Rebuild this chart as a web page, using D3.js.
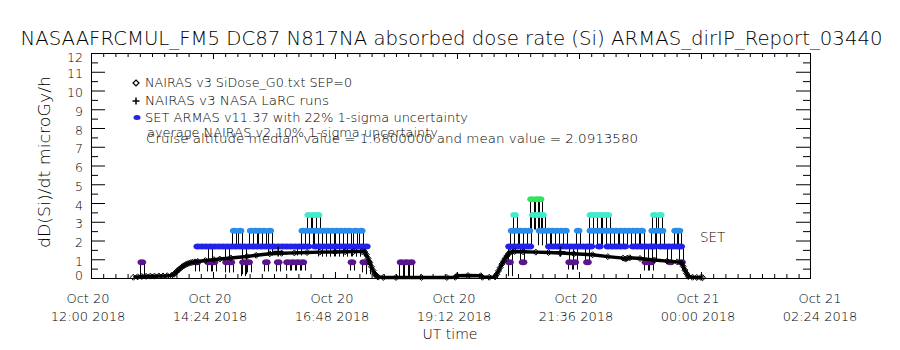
<!DOCTYPE html>
<html><head><meta charset="utf-8">
<script src="https://cdn.jsdelivr.net/npm/d3@7"></script>
<style>
body{margin:0;background:#fff}
svg text{font-family:"DejaVu Sans",sans-serif;font-weight:200;fill:#000}
</style>
</head><body>
<svg id="c" width="900" height="350"></svg>
<script>
// ---------------- data ----------------
const titleText = "NASAAFRCMUL_FM5 DC87 N817NA absorbed dose rate (Si) ARMAS_dirIP_Report_03440";
const yTitle = "dD(Si)/dt microGy/h";
const xTitle = "UT time";
const yTickValues = [0,1,2,3,4,5,6,7,8,9,10,11,12];
const xTickTimes = ["12:00","14:24","16:48","19:12","21:36","00:00","02:24"];
const legendLines = [
  "NAIRAS v3 SiDose_G0.txt SEP=0",
  "NAIRAS v3 NASA LaRC runs",
  "SET ARMAS v11.37 with 22% 1-sigma uncertainty",
  "average NAIRAS v2 10% 1-sigma uncertainty",
  "Cruise altitude median value = 1.6800000 and mean value = 2.0913580"
];

// NAIRAS v3 SiDose (diamonds)
const nairasTimes = ["12:50","12:55","13:00","13:05","13:10","13:15","13:20","13:25","13:30","13:35","13:38","13:40","13:42","13:44","13:46","13:48","13:50","13:52","13:54","13:56","13:58","14:00","14:03","14:06","14:15","14:25","14:32","14:45","15:04","15:15","15:31","15:45","16:00","16:15","16:30","16:48","17:00","17:10","17:20","17:23","17:25","17:27","17:29","17:31","17:33","17:35","17:37","17:39","17:45","18:00","18:30","19:00","19:10","19:12","19:25","19:40","19:42","19:50","19:57","19:59","20:01","20:03","20:05","20:07","20:09","20:11","20:13","20:15","20:20","20:30","20:45","21:00","21:14","21:30","21:52","22:10","22:28","22:31","22:33","22:36","22:48","23:05","23:20","23:32","23:37","23:39","23:41","23:43","23:45","23:50","23:55","00:00","00:02"];
const nairasDose  = [0.04,0.06,0.08,0.09,0.10,0.10,0.11,0.11,0.12,0.14,0.20,0.30,0.38,0.46,0.54,0.61,0.67,0.72,0.76,0.79,0.82,0.84,0.86,0.88,0.93,0.98,1.01,1.07,1.15,1.21,1.29,1.32,1.34,1.36,1.38,1.39,1.40,1.41,1.41,1.40,1.25,1.05,0.82,0.60,0.40,0.22,0.10,0.05,0.03,0.03,0.03,0.03,0.04,0.12,0.13,0.12,0.04,0.04,0.06,0.20,0.38,0.56,0.74,0.90,1.05,1.18,1.30,1.38,1.41,1.40,1.38,1.36,1.33,1.29,1.24,1.14,1.06,1.01,1.06,1.08,1.04,0.96,0.90,0.86,0.80,0.62,0.42,0.24,0.08,0.04,0.03,0.03,0.02];

// NAIRAS v3 NASA LaRC runs (+)
const larcTimes = ["15:41","21:14"];
const larcDose  = [1.42,1.40];

// SET ARMAS measurements, one array per quantised dose level, with the lower end of each drop line
const armasLevels = [0.84, 1.68, 2.52, 3.36, 4.2];
const armasL1Times = ["13:00","14:05","14:19","14:25","14:40","14:45","15:00","15:06","15:27","15:41","15:52","15:58","16:04","16:10","17:08","17:22","17:27","18:06","18:12","18:18","20:14","20:30","21:25","21:31","21:46","22:55","23:01","23:24","23:37"];
const armasL1Low   = [0.15,0.35,0.35,0.35,0.30,0.30,0.10,0.30,0.35,0.35,0.40,0.40,0.40,0.40,0.40,0.30,0.20,0.10,0.10,0.10,0.10,0.84,0.45,0.45,0.84,0.40,0.40,0.84,0.84];
const armasL2Times = ["14:06","14:11","14:16","14:21","14:26","14:31","14:36","14:41","14:46","14:51","14:56","15:01","15:06","15:11","15:16","15:21","15:26","15:31","15:36","15:41","15:46","15:51","15:56","16:01","16:06","16:11","16:16","16:25","16:30","16:35","16:40","16:45","16:50","16:55","17:00","17:05","17:10","17:15","17:20","17:25",
  "20:14","20:19","20:24","20:29","20:34","20:38","21:01","21:06","21:11","21:16","21:21","21:26","21:31","21:36","21:41","21:46","21:50","22:00","22:10","22:15","22:20","22:25","22:30","22:40","22:45","22:50","22:55","23:00","23:04","23:12","23:17","23:22","23:27","23:32","23:36"];
const armasL2Low   = [1.68,1.68,1.68,0.90,1.68,1.68,1.68,0.90,1.68,1.68,1.68,0.20,1.68,1.68,1.68,1.68,1.68,1.20,1.68,1.68,1.68,1.68,1.68,1.68,1.20,1.68,1.68,1.68,1.15,1.15,1.15,1.15,1.15,1.15,1.15,1.15,1.15,1.15,1.15,1.68,
  0.90,1.68,1.68,0.90,1.68,1.68,1.68,1.68,1.68,1.68,1.68,0.90,0.90,1.68,1.68,0.90,1.68,1.68,1.68,1.68,1.68,1.68,1.68,1.68,1.68,1.68,0.90,0.90,0.90,1.68,1.68,0.90,1.68,1.68,0.90];
const armasL3Times = ["14:49","14:56","15:09","15:14","15:19","15:24","15:31","16:10","16:15","16:20","16:25","16:30","16:35","16:40","16:45","16:50","16:55","17:00","17:05","17:12","17:19",
  "20:17","20:22","20:27","20:32","20:37","20:50","20:55","21:00","21:05","21:10","21:15","21:20","21:35","21:50","21:55","22:00","22:05","22:10","22:15","22:20","22:25","22:30","22:35","22:40","22:45","22:50","23:03","23:09","23:14","23:30","23:34"];
const armasL3Low   = armasL3Times.map(() => 1.75);
const armasL4Times = ["16:17","16:23","16:28","20:20","20:42","20:47","20:53","21:50","21:55","22:00","22:05","22:10","23:05","23:12"];
const armasL4Low   = [2.6,2.6,2.6,2.6,2.6,2.6,2.6,2.6,2.6,2.6,2.6,2.6,2.6,2.6];
const armasL5Times = ["20:40","20:46","20:50"];
const armasL5Low   = [2.6,2.6,2.6];

// ---------------- drawing ----------------
const levelColors = ["#5a148c","#2222e8","#2a8cec","#40eccc","#2ee65a"];
const parseT = s => { const [h,m] = s.split(":").map(Number); return new Date(2018, 9, h >= 12 ? 20 : 21, h, m); };

const L = 91, R = 810, T = 53, B = 278;
const x = d3.scaleTime().domain([new Date(2018,9,20,12,0), new Date(2018,9,21,2,8,40)]).range([L, R]);
const y = d3.scaleLinear().domain([0,12]).range([B, T]);
const svg = d3.select("#c");

// frame
svg.append("rect").attr("x",L+0.5).attr("y",T+0.5).attr("width",R-L).attr("height",B-T)
  .attr("fill","none").attr("stroke","#000").attr("stroke-width",1);

// axes ticks
const t0 = new Date(2018,9,20,12,0);
const xEnd = x.domain()[1];
const majorX = xTickTimes.map(parseT).filter(d => d <= xEnd);
const minorX = d3.range(0, 850, 14.4).map(m => new Date(+t0 + m*60000)).filter(d => d <= xEnd);
const yMinor = d3.range(0.5, 12, 1);
function cleanAxis(g){ g.select(".domain").remove(); g.selectAll("text").remove(); g.selectAll("line").attr("stroke","#000"); }
svg.append("g").attr("transform",`translate(0,${B})`).call(d3.axisTop(x).tickValues(minorX).tickSize(4)).call(cleanAxis);
svg.append("g").attr("transform",`translate(0,${B})`).call(d3.axisTop(x).tickValues(majorX).tickSize(6)).call(cleanAxis);
svg.append("g").attr("transform",`translate(0,${T})`).call(d3.axisBottom(x).tickValues(minorX).tickSize(4)).call(cleanAxis);
svg.append("g").attr("transform",`translate(0,${T})`).call(d3.axisBottom(x).tickValues(majorX).tickSize(6)).call(cleanAxis);
svg.append("g").attr("transform",`translate(${L},0)`).call(d3.axisRight(y).tickValues(yTickValues).tickSize(14)).call(cleanAxis);
svg.append("g").attr("transform",`translate(${L},0)`).call(d3.axisRight(y).tickValues(yMinor).tickSize(7)).call(cleanAxis);
svg.append("g").attr("transform",`translate(${R},0)`).call(d3.axisLeft(y).tickValues(yTickValues).tickSize(14)).call(cleanAxis);
svg.append("g").attr("transform",`translate(${R},0)`).call(d3.axisLeft(y).tickValues(yMinor).tickSize(7)).call(cleanAxis);

// y tick labels
svg.append("g").selectAll("text").data(yTickValues).join("text")
  .attr("x", 83).attr("text-anchor","end").attr("font-size",12.5)
  .attr("y", d => d === 0 ? 279.5 : Math.max(61.5, Math.min(y(d)+6.5, 277)))
  .text(d => d);

// x tick labels
const fmtDay = d3.timeFormat("%b %d"), fmtHour = d3.timeFormat("%H:%M %Y");
const xl = svg.append("g").selectAll("g").data(xTickTimes.map(parseT)).join("g");
xl.append("text").attr("x", d => x(d)-3).attr("y",303).attr("text-anchor","middle").attr("font-size",13).text(fmtDay);
xl.append("text").attr("x", d => x(d)-3).attr("y",321).attr("text-anchor","middle").attr("font-size",13).text(fmtHour);

// titles
svg.append("text").attr("x",451.5).attr("y",45).attr("text-anchor","middle").attr("font-size",19)
  .attr("textLength",862).attr("lengthAdjust","spacingAndGlyphs").text(titleText);
svg.append("text").attr("x",450).attr("y",339).attr("text-anchor","middle").attr("font-size",14).text(xTitle);
svg.append("text").attr("transform","translate(50,162) rotate(-90)").attr("text-anchor","middle").attr("font-size",15)
  .attr("textLength",172).attr("lengthAdjust","spacingAndGlyphs").text(yTitle);

// ARMAS stems and dots
const levelTimes = [armasL1Times, armasL2Times, armasL3Times, armasL4Times, armasL5Times];
const levelLows  = [armasL1Low, armasL2Low, armasL3Low, armasL4Low, armasL5Low];
const armas = [];
levelTimes.forEach((ts, li) => ts.forEach((t, i) => armas.push({t: parseT(t), v: armasLevels[li], lo: levelLows[li][i], c: levelColors[li]})));
const stems = svg.append("g").attr("stroke","#000").attr("stroke-width",1);
armas.filter(d => d.lo < d.v).forEach(d => {
  [-2, 2].forEach(off => stems.append("line")
    .attr("x1", Math.round(x(d.t))+off+0.5).attr("x2", Math.round(x(d.t))+off+0.5)
    .attr("y1", y(d.v)).attr("y2", y(d.lo)));
});
svg.append("g").selectAll("ellipse").data(armas).join("ellipse")
  .attr("cx", d => x(d.t)).attr("cy", d => y(d.v)).attr("rx",4.3).attr("ry",3).attr("fill", d => d.c);

// NAIRAS v3 line + diamonds
const nairas = nairasTimes.map((t,i) => ({t: parseT(t), v: nairasDose[i]}));
svg.append("path").datum(nairas).attr("fill","none").attr("stroke","#000").attr("stroke-width",3.5)
  .attr("d", d3.line().x(d => x(d.t)).y(d => y(d.v)));
svg.append("g").selectAll("path").data(nairas).join("path")
  .attr("transform", d => `translate(${x(d.t)},${y(d.v)})`)
  .attr("d","M0,-3L3,0L0,3L-3,0Z").attr("fill","none").attr("stroke","#000").attr("stroke-width",1);

// LaRC plus markers
svg.append("g").selectAll("path").data(larcTimes.map((t,i)=>({t:parseT(t), v:larcDose[i]}))).join("path")
  .attr("transform", d => `translate(${x(d.t)},${y(d.v)})`)
  .attr("d","M-5,0H5M0,-5V5").attr("stroke","#000").attr("stroke-width",1.5);

// legend
const lg = svg.append("g");
lg.append("path").attr("transform","translate(136,83)").attr("d","M0,-3L3,0L0,3L-3,0Z").attr("fill","none").attr("stroke","#000").attr("stroke-width",1.2);
lg.append("path").attr("transform","translate(136,101)").attr("d","M-3.5,0H3.5M0,-3.5V3.5").attr("stroke","#000").attr("stroke-width",1.5);
lg.append("ellipse").attr("cx",137).attr("cy",117.5).attr("rx",3.5).attr("ry",2.5).attr("fill","#2222e8");
const legX = [145,145,145,147,146], legY = [87,104.5,121.5,137,143], legW = [207,184,323,291,492];
legendLines.forEach((s,i) => lg.append("text").attr("x",legX[i]).attr("y",legY[i]).attr("font-size",12.5)
  .attr("textLength",legW[i]).attr("lengthAdjust","spacingAndGlyphs").text(s));

svg.append("text").attr("x",700).attr("y",242).attr("font-size",13.5).text("SET");
</script>
</body></html>
